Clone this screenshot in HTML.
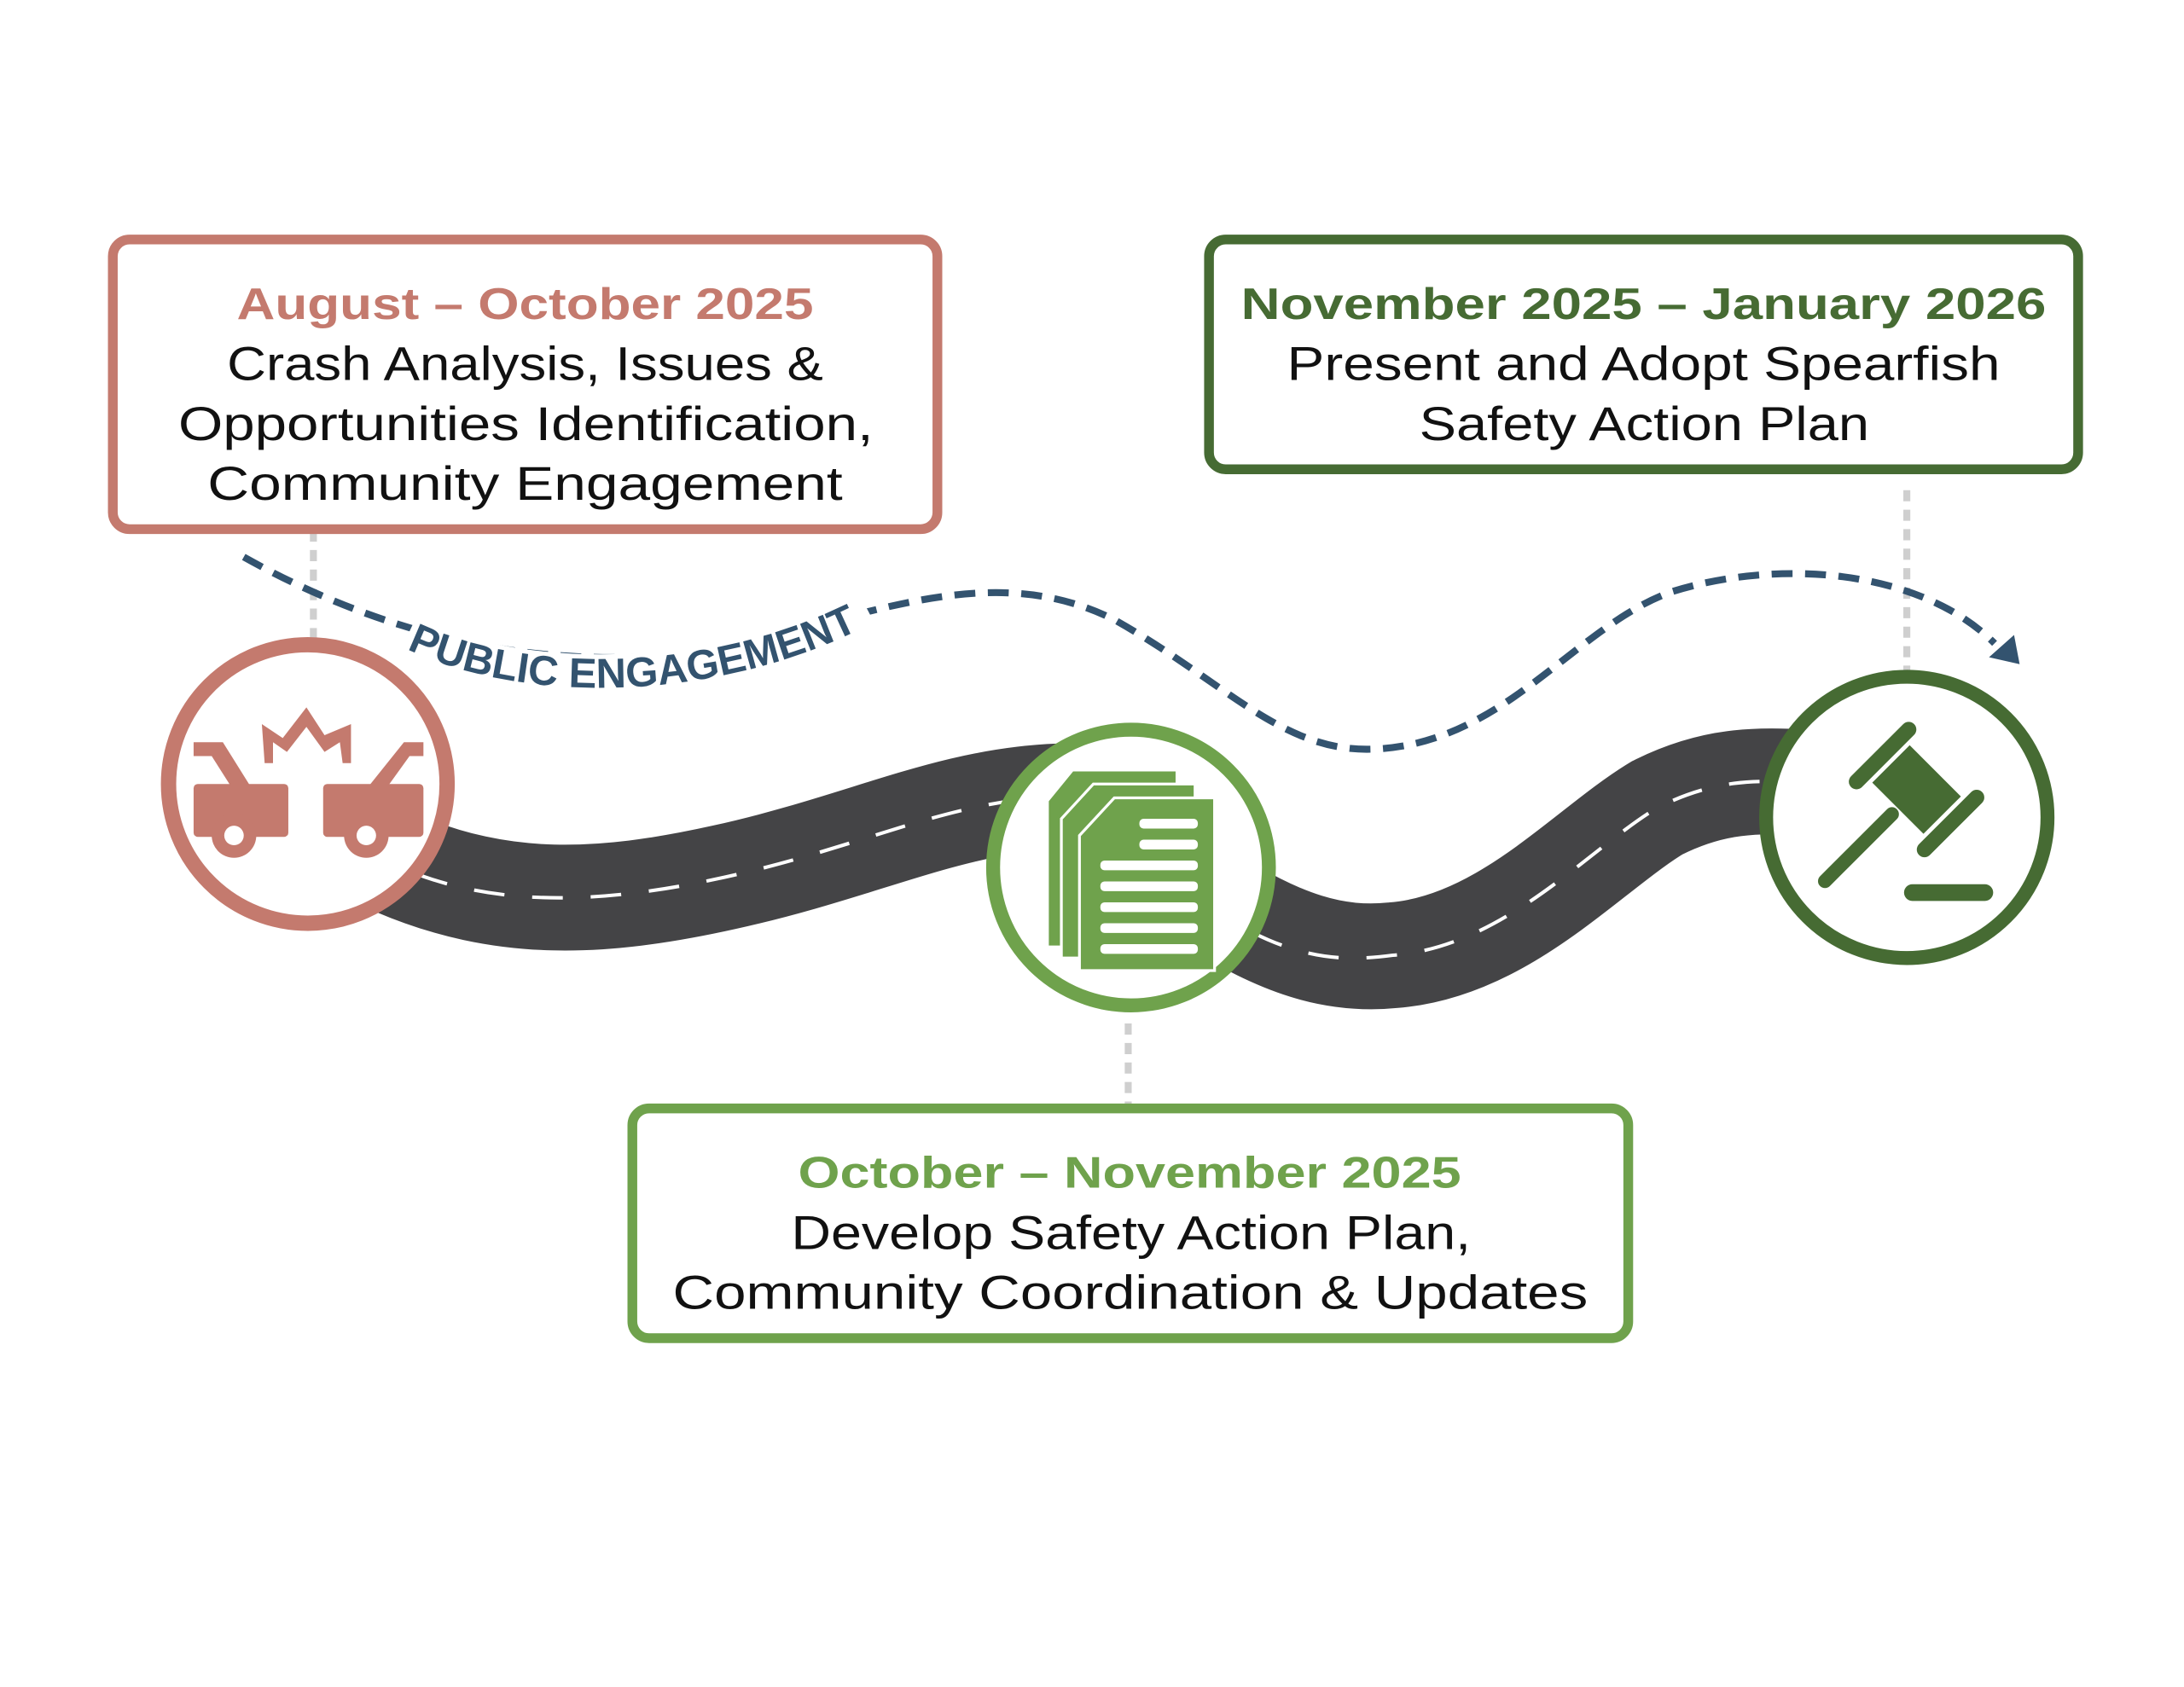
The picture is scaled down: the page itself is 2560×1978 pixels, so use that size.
<!DOCTYPE html>
<html><head><meta charset="utf-8"><style>
html,body{margin:0;padding:0;background:#fff;}
svg{display:block;}
text{font-family:"Liberation Sans",sans-serif;}
</style></head><body>
<svg width="2560" height="1978" viewBox="0 0 1568 1211.5" xmlns="http://www.w3.org/2000/svg">
<!-- gray connectors -->
<g stroke="#cfcfcf" stroke-width="5" stroke-dasharray="8 6" fill="none">
<line x1="225" y1="381" x2="225" y2="458"/>
<line x1="1369" y1="352" x2="1369" y2="482"/>
<line x1="810" y1="735" x2="810" y2="793"/>
</g>
<!-- road -->
<g fill="none" stroke-linecap="butt">
<path d="M285,620 C360,652 430,650 520,630 C620,608 680,575 760,572" stroke="#444446" stroke-width="76"/>
<path d="M860,640 C920,680 960,690 1000,686 C1080,680 1140,610 1190,580 C1230,560 1260,560 1300,562" stroke="#444446" stroke-width="76"/>
<path d="M300,628 C360,650 430,650 520,630 C620,608 680,575 760,572" stroke="#fff" stroke-width="2.5" stroke-dasharray="22 20"/>
<path d="M900,670 C940,690 970,690 1000,686 C1080,680 1140,610 1190,580 C1230,560 1260,560 1290,562" stroke="#fff" stroke-width="2.5" stroke-dasharray="22 20"/>
</g>
<!-- public engagement dashed -->
<path d="M175,400 C300,470 450,500 620,440 C680,425 740,415 800,445 C880,490 920,540 985,538 C1080,535 1130,450 1200,425 C1280,400 1380,410 1432,462" fill="none" stroke="#33536f" stroke-width="5" stroke-dasharray="15 9"/>
<polygon points="1450,477 1428,472 1446,456" fill="#33536f"/>
<path id="tp" d="M292,466 C380,508 520,503 625,448" fill="none"/>
<path d="M290,462 C380,504 520,499 626,444" fill="none" stroke="#fff" stroke-width="40"/>
<text font-size="30" font-weight="bold" fill="#33536f"><textPath href="#tp" textLength="335" lengthAdjust="spacingAndGlyphs">PUBLIC ENGAGEMENT</textPath></text>
<!-- circles -->
<circle cx="221" cy="563" r="100" fill="#fff" stroke="#c47a6e" stroke-width="11"/>
<circle cx="812" cy="623" r="99" fill="#fff" stroke="#6fa24c" stroke-width="10"/>
<circle cx="1369" cy="587" r="101" fill="#fff" stroke="#466b33" stroke-width="10"/>
<!-- car icon -->
<g fill="#c47a6e">
<rect x="139" y="563" width="68" height="38" rx="3"/>
<rect x="232" y="563" width="72" height="38" rx="3"/>
<polygon points="139,533 160,533 180,565 166,565 152,543 139,543"/>
<polygon points="304,533 290,533 262,568 276,568 294,543 304,543"/>
<circle cx="168" cy="600" r="16"/><circle cx="263" cy="600" r="16"/>
<polygon points="190,548 188,520 203,530 220,508 233,528 252,520 252,548 246,548 244,533 233,540 220,522 206,540 196,533 196,548"/>
</g>
<circle cx="168" cy="600" r="7" fill="#fff"/><circle cx="263" cy="600" r="7" fill="#fff"/>
<!-- doc icon -->
<g fill="#6fa24c" stroke="#fff" stroke-width="2">
<polygon points="770,553 845,553 845,680 752,680 752,575"/>
<polygon points="785,563 858,563 858,688 762,688 762,588"/>
<polygon points="800,573 872,573 872,697 775,697 775,600"/>
</g>
<g fill="#fff">
<rect x="818" y="588" width="42" height="7" rx="3"/><rect x="818" y="603" width="42" height="7" rx="3"/>
<rect x="790" y="618" width="70" height="7" rx="3"/><rect x="790" y="633" width="70" height="7" rx="3"/>
<rect x="790" y="648" width="70" height="7" rx="3"/><rect x="790" y="663" width="70" height="7" rx="3"/>
<rect x="790" y="678" width="70" height="7" rx="3"/>
</g>
<!-- gavel -->
<g fill="#466b33" transform="translate(1376,567) rotate(45)">
<rect x="-26" y="-19" width="52" height="38"/>
<rect x="-40" y="-32" width="11" height="64" rx="5.5"/>
<rect x="29" y="-32" width="11" height="64" rx="5.5"/>
<rect x="-5" y="20" width="10" height="78" rx="5"/>
</g>
<rect x="1367" y="635" width="64" height="12" rx="6" fill="#466b33"/>
<!-- boxes -->
<rect x="81" y="172" width="592" height="208" rx="12" fill="#fff" stroke="#c47a6e" stroke-width="7"/>
<rect x="868" y="172" width="624" height="165" rx="12" fill="#fff" stroke="#466b33" stroke-width="7"/>
<rect x="454" y="796" width="715" height="165" rx="12" fill="#fff" stroke="#6fa24c" stroke-width="7"/>
<g font-size="34" fill="#111">
<text x="170" y="229" font-size="32" font-weight="bold" fill="#c47a6e" textLength="414" lengthAdjust="spacingAndGlyphs">August – October 2025</text>
<text x="163" y="273" textLength="428" lengthAdjust="spacingAndGlyphs">Crash Analysis, Issues &amp;</text>
<text x="128" y="316" textLength="499" lengthAdjust="spacingAndGlyphs">Opportunities Identification,</text>
<text x="149" y="359" textLength="456" lengthAdjust="spacingAndGlyphs">Community Engagement</text>
<text x="891" y="229" font-size="32" font-weight="bold" fill="#466b33" textLength="578" lengthAdjust="spacingAndGlyphs">November 2025 – January 2026</text>
<text x="924" y="273" textLength="512" lengthAdjust="spacingAndGlyphs">Present and Adopt Spearfish</text>
<text x="1019" y="316" textLength="323" lengthAdjust="spacingAndGlyphs">Safety Action Plan</text>
<text x="573" y="853" font-size="32" font-weight="bold" fill="#6fa24c" textLength="476" lengthAdjust="spacingAndGlyphs">October – November 2025</text>
<text x="568" y="897" textLength="488" lengthAdjust="spacingAndGlyphs">Develop Safety Action Plan,</text>
<text x="483" y="940" textLength="657" lengthAdjust="spacingAndGlyphs">Community Coordination &amp; Updates</text>
</g>
</svg>
</body></html>
